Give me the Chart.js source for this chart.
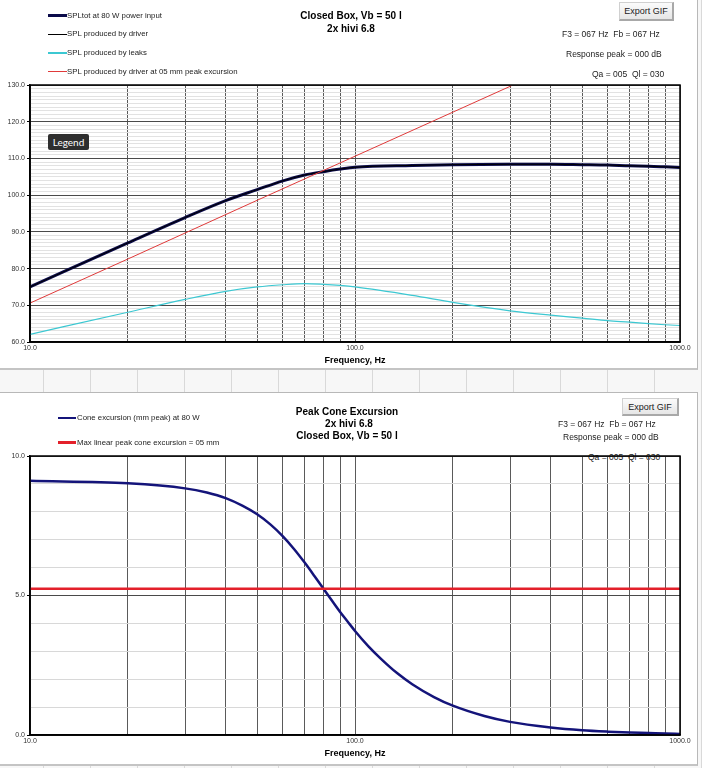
<!DOCTYPE html>
<html>
<head>
<meta charset="utf-8">
<script src="https://cdn.jsdelivr.net/npm/chart.js@4.4.1/dist/chart.umd.min.js"></script>
<style>
  html, body { margin:0; padding:0; }
  body {
    width:702px; height:768px; position:relative; overflow:hidden;
    font-family:"Liberation Sans", Arial, Helvetica, sans-serif;
    background-color:#f7f7f7;
    background-image: repeating-linear-gradient(to right, transparent 0, transparent 43px, #d9d9d9 43px, #d9d9d9 44px, transparent 44px, transparent 47px);
  }
  .panel { position:absolute; left:0; width:698px; background:#fff; border-right:1px solid #b8b8b8; border-bottom:2px solid #c4c4c4; box-sizing:border-box; }
  .t { position:absolute; white-space:nowrap; transform:translateY(-50%); line-height:1; color:#111; }
  .c { transform:translate(-50%,-50%); }
  .leg { font-size:7.8px; color:#222; }
  .ttl { font-size:10px; font-weight:bold; color:#000; }
  .info { font-size:8.5px; color:#222; }
  .ln { position:absolute; }
  .btn { position:absolute; font-size:9px; color:#222; background:linear-gradient(#fbfbfb,#e6e6e6); border:1px solid #d0d0d0; border-right:2px solid #a8a8a8; border-bottom:2px solid #a8a8a8; box-sizing:border-box; display:flex; align-items:center; justify-content:center; }
  .tip { position:absolute; background:#2e2e2e; color:#fff; font-size:10px; border-radius:2px; display:flex; align-items:center; justify-content:center; font-family:Lato, "Liberation Sans", sans-serif; }
  canvas { position:absolute; left:0; top:0; }
</style>
</head>
<body>

<div class="panel" id="p1" style="top:0;height:370px;">
  <canvas id="c1" width="698" height="368" style="z-index:1"></canvas>

  <div class="ln" style="left:48px;top:14.2px;width:19px;height:3px;background:#0b0b4a;z-index:2"></div>
  <div class="t leg" style="left:67px;top:15.7px;z-index:2">SPLtot at 80 W power input</div>
  <div class="ln" style="left:48px;top:33.5px;width:19px;height:1px;background:#000;z-index:2"></div>
  <div class="t leg" style="left:67px;top:34px;z-index:2">SPL produced by driver</div>
  <div class="ln" style="left:48px;top:52.3px;width:19px;height:1.5px;background:#3cc8d2;z-index:2"></div>
  <div class="t leg" style="left:67px;top:53px;z-index:2">SPL produced by leaks</div>
  <div class="ln" style="left:48px;top:71px;width:19px;height:1px;background:#e03a3a;z-index:2"></div>
  <div class="t leg" style="left:67px;top:71.5px;z-index:2">SPL produced by driver at 05 mm peak excursion</div>

  <div class="t ttl c" style="left:351px;top:16.3px;z-index:2">Closed Box, Vb = 50 l</div>
  <div class="t ttl c" style="left:351px;top:29px;z-index:2">2x hivi 6.8</div>

  <div class="btn" style="left:619px;top:2px;width:55px;height:19px;z-index:2">Export GIF</div>
  <div class="t info" style="left:562px;top:34px;z-index:2">F3 = 067 Hz&nbsp; Fb = 067 Hz</div>
  <div class="t info" style="left:566px;top:54.3px;z-index:2">Response peak = 000 dB</div>
  <div class="t info" style="left:592px;top:74px;z-index:2">Qa = 005&nbsp; Ql = 030</div>

  <div class="tip" style="left:48px;top:134px;width:41px;height:16px;z-index:3">Legend</div>
</div>

<div class="panel" id="p2" style="top:392px;height:374px;border-top:1px solid #b8b8b8;">
  <div class="t info" style="left:588px;top:64px;z-index:0">Qa = 005&nbsp; Ql = 030</div>
  <canvas id="c2" width="698" height="368" style="z-index:1"></canvas>

  <div class="ln" style="left:58px;top:23.5px;width:18px;height:2.5px;background:#14147a;z-index:2"></div>
  <div class="t leg" style="left:77px;top:24.7px;z-index:2">Cone excursion (mm peak) at 80 W</div>
  <div class="ln" style="left:58px;top:48.2px;width:18px;height:3px;background:#e3202a;z-index:2"></div>
  <div class="t leg" style="left:77px;top:49.7px;z-index:2">Max linear peak cone excursion = 05 mm</div>

  <div class="t ttl c" style="left:347px;top:18.5px;z-index:2">Peak Cone Excursion</div>
  <div class="t ttl c" style="left:349px;top:30.8px;z-index:2">2x hivi 6.8</div>
  <div class="t ttl c" style="left:347px;top:42.5px;z-index:2">Closed Box, Vb = 50 l</div>

  <div class="btn" style="left:622px;top:5px;width:57px;height:18px;z-index:2">Export GIF</div>
  <div class="t info" style="left:558px;top:30.7px;z-index:2">F3 = 067 Hz&nbsp; Fb = 067 Hz</div>
  <div class="t info" style="left:563px;top:43.7px;z-index:2">Response peak = 000 dB</div>
</div>

<script>
// ---------- DATA ----------
// Top chart (SPL, dB)
const freqTop     = [10, 20, 30, 40, 50, 60, 70, 80, 90, 100, 150, 200, 300, 400, 500, 600, 700, 800, 900, 1000];
const splTot      = [75.0, 87.0, 93.9, 98.5, 101.5, 103.9, 105.5, 106.4, 107.1, 107.6, 108.1, 108.3, 108.4, 108.4, 108.3, 108.2, 108.0, 107.9, 107.7, 107.5];
const splDriver   = [75.0, 87.0, 93.9, 98.5, 101.5, 103.9, 105.5, 106.4, 107.1, 107.6, 108.1, 108.3, 108.4, 108.4, 108.3, 108.2, 108.0, 107.9, 107.7, 107.5];
const splLeaks    = [62.1, 68.1, 71.6, 73.8, 75.0, 75.6, 75.9, 75.7, 75.4, 75.0, 72.7, 70.8, 68.5, 67.3, 66.5, 65.8, 65.4, 65.0, 64.7, 64.5];
const freqXmax    = [10, 20, 50, 100, 200, 303];
const splAtXmax   = [70.6, 82.6, 98.6, 110.6, 122.6, 129.8];

// Bottom chart (cone excursion, mm)
const freqBot     = [10, 20, 30, 35, 40, 45, 50, 55, 60, 65, 70, 75, 80, 85, 90, 95, 100, 110, 120, 135, 150, 175, 200, 250, 300, 400, 500, 600, 700, 800, 900, 1000];
const excursion   = [9.11, 9.02, 8.84, 8.69, 8.49, 8.22, 7.91, 7.54, 7.12, 6.66, 6.18, 5.70, 5.24, 4.81, 4.41, 4.06, 3.73, 3.18, 2.74, 2.21, 1.82, 1.36, 1.05, 0.68, 0.47, 0.27, 0.17, 0.12, 0.09, 0.07, 0.05, 0.04];
const freqLimit   = [10, 1000];
const xmaxLimit   = [5.24, 5.24];

// Ticks
const xGridValues   = [10, 20, 30, 40, 50, 60, 70, 80, 90, 100, 200, 300, 400, 500, 600, 700, 800, 900, 1000];
const xLabelValues  = [10, 100, 1000];
const xLabels       = ['10.0', '100.0', '1000.0'];
const yTopLabelValues = [60, 70, 80, 90, 100, 110, 120, 130];
const yTopLabels      = ['60.0', '70.0', '80.0', '90.0', '100.0', '110.0', '120.0', '130.0'];
const yBotLabelValues = [0, 5, 10];
const yBotLabels      = ['0.0', '5.0', '10.0'];

// ---------- HELPERS ----------
const pts = (xs, ys) => xs.map((x, i) => ({ x: x, y: ys[i] }));
const range = (a, b) => { const r = []; for (let v = a; v <= b; v++) r.push(v); return r; };

const frame = {
  id: 'frame',
  afterDatasetsDraw(c) {
    const { ctx, chartArea: a } = c;
    ctx.save();
    ctx.strokeStyle = '#000';
    ctx.lineWidth = 1.5;
    ctx.strokeRect(a.left, a.top, a.right - a.left, a.bottom - a.top);
    ctx.restore();
  }
};

function xScale() {
  return {
    type: 'logarithmic', min: 10, max: 1000, z: 0,
    afterBuildTicks: s => { s.ticks = xGridValues.map(v => ({ value: v })); },
    afterFit: s => { s.height = 26; },
    ticks: {
      autoSkip: false, maxRotation: 0, padding: 2,
      font: { size: 7, family: '"Liberation Sans", Arial, sans-serif' }, color: '#333',
      callback: v => { const i = xLabelValues.indexOf(v); return i >= 0 ? xLabels[i] : ''; }
    },
    grid: { color: '#5a5a5a', lineWidth: 1, drawTicks: false },
    border: { display: true, color: '#000', width: 1.5 },
    title: { display: true, text: 'Frequency, Hz', color: '#000', padding: { top: 0, bottom: 2 },
             font: { size: 9, weight: 'bold', family: '"Liberation Sans", Arial, sans-serif' } }
  };
}

function yScale(min, max, majorVals, majorLabels, isMajor, minorColor) {
  return {
    type: 'linear', min: min, max: max, z: -1,
    afterBuildTicks: s => { s.ticks = range(min, max).map(v => ({ value: v })); },
    afterFit: s => { s.width = 30; },
    ticks: {
      autoSkip: false, padding: 2,
      font: { size: 7, family: '"Liberation Sans", Arial, sans-serif' }, color: '#333',
      callback: v => { const i = majorVals.indexOf(v); return i >= 0 ? majorLabels[i] : ''; }
    },
    grid: {
      color: ctx => (ctx.tick && isMajor(ctx.tick.value)) ? '#4a4a4a' : minorColor,
      tickColor: ctx => (ctx.tick && majorVals.indexOf(ctx.tick.value) >= 0) ? '#000' : 'rgba(0,0,0,0)',
      tickLength: 3, lineWidth: 1
    },
    border: { display: true, color: '#000', width: 1.5 }
  };
}

// ---------- TOP CHART ----------
new Chart(document.getElementById('c1'), {
  type: 'line',
  data: {
    datasets: [
      { label: 'SPL produced by leaks', data: pts(freqTop, splLeaks), borderColor: '#3cc8d2', borderWidth: 1.2, cubicInterpolationMode: 'monotone' },
      { label: 'SPL produced by driver at 05 mm peak excursion', data: pts(freqXmax, splAtXmax), borderColor: '#e03a3a', borderWidth: 1, tension: 0 },
      { label: 'SPL produced by driver', data: pts(freqTop, splDriver), borderColor: '#000', borderWidth: 1, cubicInterpolationMode: 'monotone' },
      { label: 'SPLtot at 80 W power input', data: pts(freqTop, splTot), borderColor: '#0b0b4a', borderWidth: 3, cubicInterpolationMode: 'monotone' }
    ]
  },
  options: {
    responsive: false, animation: false, devicePixelRatio: 1,
    layout: { padding: { top: 85, right: 18, left: 0, bottom: 0 } },
    elements: { point: { radius: 0 } },
    plugins: { legend: { display: false }, tooltip: { enabled: false } },
    scales: {
      x: xScale(),
      y: yScale(60, 130, yTopLabelValues, yTopLabels, v => v % 10 === 0, '#e2e2e2')
    }
  },
  plugins: [frame]
});

// ---------- BOTTOM CHART ----------
new Chart(document.getElementById('c2'), {
  type: 'line',
  data: {
    datasets: [
      { label: 'Max linear peak cone excursion = 05 mm', data: pts(freqLimit, xmaxLimit), borderColor: '#e3202a', borderWidth: 2.5, tension: 0 },
      { label: 'Cone excursion (mm peak) at 80 W', data: pts(freqBot, excursion), borderColor: '#14147a', borderWidth: 2.5, cubicInterpolationMode: 'monotone' }
    ]
  },
  options: {
    responsive: false, animation: false, devicePixelRatio: 1,
    layout: { padding: { top: 63, right: 18, left: 0, bottom: 0 } },
    elements: { point: { radius: 0 } },
    plugins: { legend: { display: false }, tooltip: { enabled: false } },
    scales: {
      x: xScale(),
      y: yScale(0, 10, yBotLabelValues, yBotLabels, v => v % 5 === 0, '#d8d8d8')
    }
  },
  plugins: [frame]
});
</script>
</body>
</html>
